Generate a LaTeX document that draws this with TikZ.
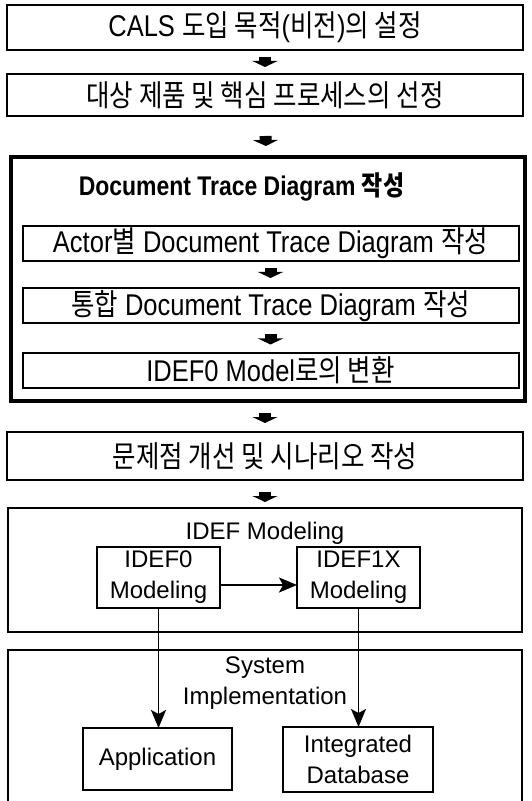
\documentclass[tikz,border=0pt]{standalone}
\usepackage{fontspec}
\setmainfont{Liberation Sans}[FakeStretch=0.85]
\newfontfamily\krfont{Noto Sans CJK KR}[FakeStretch=0.85]
\newfontfamily\widefont{Liberation Sans}
\newcommand{\kr}[1]{{\krfont #1}}
\usetikzlibrary{arrows.meta,positioning}

\begin{document}
\begin{tikzpicture}[
  font=\fontsize{15}{17}\selectfont,
  box/.style={draw,line width=1pt,minimum width=258pt,minimum height=23pt,inner sep=0pt,outer sep=0pt},
  sub/.style={draw,line width=1pt,minimum width=248pt,minimum height=17.5pt,inner sep=0pt,outer sep=0pt},
  frame/.style={draw,line width=1pt,minimum width=257pt,inner sep=0pt,outer sep=0pt},
  mbox/.style={draw,line width=1pt,align=center,inner sep=0pt,outer sep=0pt,font=\widefont\fontsize{12}{15.5}\selectfont},
  ttl/.style={align=center,font=\widefont\fontsize{12}{15.5}\selectfont},
  blk/.style 2 args={line width=6pt,-{Triangle[width=12.5pt,length=3pt]},shorten <=#1,shorten >=#2},
  arr/.style={line width=0.9pt,-{Stealth[length=9pt,width=7.5pt,inset=2pt]}}]
\useasboundingbox (0,0) rectangle (265.5pt,-400.5pt);

% --- main column ---
\node[box,minimum height=22.5pt] (goal) at (132.5pt,-13.75pt) {CALS \kr{도입 목적}(\kr{비전})\kr{의 설정}};
\node[box,minimum height=21pt,below=12pt of goal] (target) {\kr{대상 제품 및 핵심 프로세스의 선정}};

% --- document trace diagram: thick frame with three steps ---
\node[frame,line width=2.2pt,minimum height=122pt,below=20.5pt of target,xshift=1.5pt] (dtd) {};
\node[font=\bfseries\fontsize{13.5}{15}\selectfont] (dtdT) at ([xshift=-13.25pt,yshift=-15pt]dtd.north) {Document Trace Diagram \kr{작성}};
\node[sub] (actor) at ([xshift=1.25pt,yshift=-43.25pt]dtd.north) {Actor\kr{별} Document Trace Diagram \kr{작성}};
\node[sub,below=13.75pt of actor] (merge) {\kr{통합} Document Trace Diagram \kr{작성}};
\node[sub,below=14.75pt of merge] (conv) {IDEF0 Model\kr{로의 변환}};

\node[box,minimum height=24pt,below=15.5pt of dtd,xshift=-1.5pt] (scen) {\kr{문제점 개선 및 시나리오 작성}};

% --- IDEF modeling ---
\node[frame,minimum height=62pt,below=14pt of scen] (idef) {};
\node[ttl] (idefT) at ([yshift=-12.5pt]idef.north) {IDEF Modeling};
\node[mbox,minimum width=61.5pt,minimum height=30.5pt] (idef0) at ([xshift=-53.25pt,yshift=-34.75pt]idef.north) {IDEF0\\Modeling};
\node[mbox,minimum width=61.5pt,minimum height=30.5pt,right=38.5pt of idef0] (idef1x) {IDEF1X\\Modeling};

% --- system implementation (open at the bottom) ---
\node[minimum width=257pt,minimum height=75.5pt,inner sep=0pt,outer sep=0pt,below=9pt of idef] (impl) {};
\draw[line width=1pt] (impl.south west) |- (impl.north east) -- (impl.south east);
\node[ttl] (implT) at ([yshift=-16.5pt]impl.north) {System\\Implementation};
\node[mbox,minimum width=74.5pt,minimum height=31pt] (app) at ([xshift=-53.75pt,yshift=-54.5pt]impl.north) {Application};
\node[mbox,minimum width=75pt,minimum height=32.5pt] (db) at ([xshift=46.5pt,yshift=-54.75pt]impl.north) {Integrated\\Database};

% --- connectors ---
\draw[blk={3.5pt}{3.5pt}] (goal) -- (target);
\draw[blk={10pt}{5.5pt}] (target) -- (dtd);
\draw[blk={3.5pt}{5.25pt}] (actor) -- (merge);
\draw[blk={5.5pt}{4.25pt}] (merge) -- (conv);
\draw[blk={6pt}{4.5pt}] (dtd.south -| scen) -- (scen);
\draw[blk={6pt}{3pt}] (scen) -- (idef);
\draw[arr] ([yshift=-3.75pt]idef0.east) -- ([yshift=-3.75pt]idef1x.west);
\draw[arr] (idef0.south) -- (idef0.south |- app.north);
\draw[arr] (idef1x.south) -- (idef1x.south |- db.north);
\end{tikzpicture}
\end{document}
